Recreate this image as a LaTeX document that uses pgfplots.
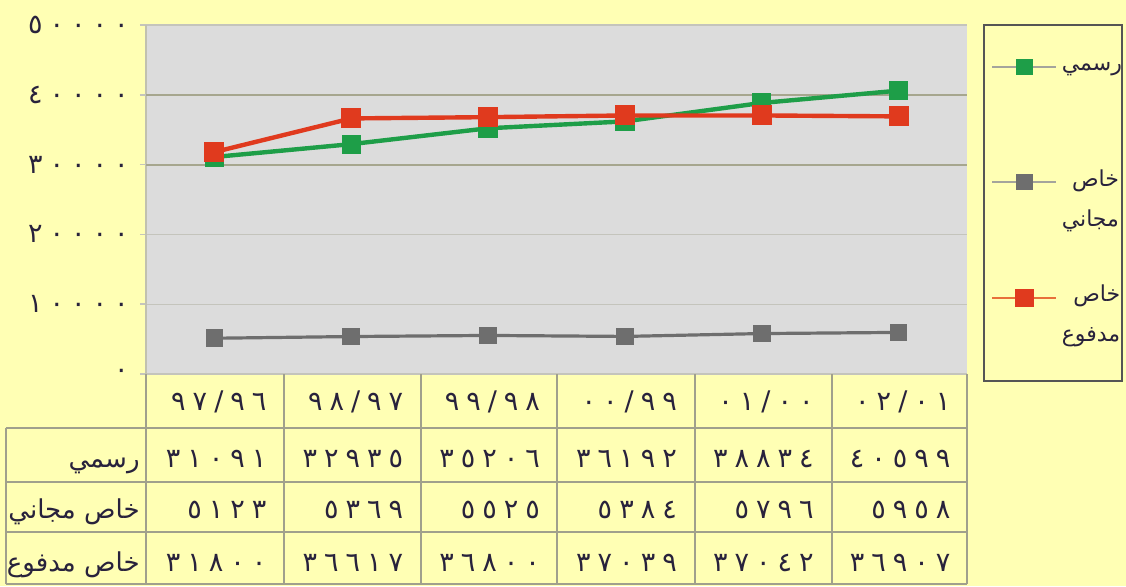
\documentclass[border=0pt]{standalone}
\usepackage{fontspec}
\usepackage{pgfplots}
\usepackage{pgfplotstable}
\pgfplotsset{compat=1.18}
\usetikzlibrary{backgrounds}
\TeXXeTstate=1
\newfontfamily\arabicfont[Script=Arabic]{DejaVu Sans}
\newfontfamily\digfont[LetterSpace=26]{DejaVu Sans}
\definecolor{bgyellow}{HTML}{FFFFB4}
\definecolor{plotgrey}{HTML}{DCDCDC}
\definecolor{rasmi}{HTML}{1E9E48}
\definecolor{majani}{HTML}{6E6E6E}
\definecolor{madfu}{HTML}{E03A1E}
\definecolor{gridlight}{HTML}{C4C4BC}
\definecolor{griddark}{HTML}{A6A68E}
\definecolor{tableline}{HTML}{A0A08C}
\definecolor{legline}{HTML}{A4A49C}
\definecolor{legred}{HTML}{E8703A}
\definecolor{frame}{HTML}{555555}
\definecolor{ink}{HTML}{28223C}

% enrolment by year: official, private free, private paid
\pgfplotstableread{
x rasmi majani madfu
0 31091 5123 31800
1 32935 5369 36617
2 35206 5525 36800
3 36192 5384 37039
4 38834 5796 37042
5 40599 5958 36907
}\enrol

% legend text hangs below the entry line and takes no room of its own
\newcommand\legtext[1]{\smash{\begin{tabular}[t]{@{}r@{}}#1\end{tabular}}}
\tikzset{
  cell/.style={anchor=base east, inner sep=0pt, text=ink, font=\digfont\fontsize{13.5}{16}\selectfont},
  rowlab/.style={anchor=base east, inner sep=0pt, text=ink, font=\arabicfont\fontsize{13}{16}\selectfont},
}

\begin{document}
\begin{tikzpicture}
\begin{axis}[name=main, scale only axis, width=410.5pt, height=174.5pt,
  xmin=-0.5, xmax=5.5, ymin=0, ymax=50000,
  axis x line=none, axis y line*=left,
  axis line style={draw=griddark!70, line width=0.8pt},
  axis background/.style={fill=plotgrey},
  scaled y ticks=false,
  ytick={0,10000,20000,30000,40000,50000},
  yticklabels={٠,١٠٠٠٠,٢٠٠٠٠,٣٠٠٠٠,٤٠٠٠٠,٥٠٠٠٠},
  yticklabel style={font=\digfont\fontsize{13.5}{16}\selectfont, text=ink, inner sep=0pt, xshift=-5.5pt},
  tick align=outside, major tick length=3pt,
  ytick style={draw=gridlight, line width=0.8pt},
  ymajorgrids, grid style={draw=gridlight, line width=0.6pt},
  extra y ticks={30000,40000}, extra y tick labels={},
  extra y tick style={grid style={draw=griddark, line width=1pt}},
  legend style={at={(1.0293,0.9009)}, anchor=north west, draw=none, fill=none,
    inner sep=0pt, outer sep=0pt, row sep=48.5pt, column sep=0pt,
    cells={anchor=base west, inner sep=0pt},
    font=\arabicfont\fontsize{11}{20}\selectfont, text=ink},
  legend image code/.code={\draw[mark repeat=2, mark phase=2, #1] plot coordinates {(0pt,2pt) (16pt,2pt) (32pt,2pt)};},
]
\addplot[forget plot, majani, line width=1.6pt, mark=square*, mark size=3.6pt] table[x=x, y=majani] {\enrol};
\addplot[forget plot, rasmi, line width=2.2pt, mark=square*, mark size=3.7pt] table[x=x, y=rasmi] {\enrol};
\addplot[forget plot, madfu, line width=2.2pt, mark=square*, mark size=3.9pt] table[x=x, y=madfu] {\enrol};

\addlegendimage{draw=legline, line width=1pt, mark=square*, mark size=3.7pt, mark options={draw=rasmi, fill=rasmi}}
\addlegendentry{\legtext{\beginR رسمي\endR}}
\addlegendimage{draw=legline, line width=1pt, mark=square*, mark size=3.6pt, mark options={draw=majani, fill=majani}}
\addlegendentry{\legtext{\beginR خاص\endR\\\beginR مجاني\endR}}
\addlegendimage{draw=legred, line width=1.4pt, mark=square*, mark size=3.9pt, mark options={draw=madfu, fill=madfu}}
\addlegendentry{\legtext{\beginR خاص\endR\\\beginR مدفوع\endR}}
\end{axis}

% picture frame, data table and legend box, in pixels of the reference
\begin{scope}[shift={(main.south west)}, x=0.5pt, y=-0.5pt, shift={(-146,-374)}]
  \begin{scope}[on background layer]
    \fill[bgyellow] (0,0) rectangle (1126,586);
  \end{scope}
  \draw[frame, line width=1pt] (984,25) rectangle (1122,381);
  \foreach \xx in {146,284,421,557,695,832,967}
    \draw[tableline, line width=0.8pt] (\xx,374) -- (\xx,584);
  \foreach \yy in {428,482,532,584}
    \draw[tableline, line width=0.8pt] (6,\yy) -- (967,\yy);
  \draw[tableline, line width=0.8pt] (6,428) -- (6,584);
  \foreach \lab [count=\i] in {٩٧/٩٦,٩٨/٩٧,٩٩/٩٨,٠٠/٩٩,٠١/٠٠,٠٢/٠١}
    \node[cell] at ({146+136.8*\i-16},410) {\lab};
  \foreach \lab [count=\i] in {٣١٠٩١,٣٢٩٣٥,٣٥٢٠٦,٣٦١٩٢,٣٨٨٣٤,٤٠٥٩٩}
    \node[cell] at ({146+136.8*\i-16},467) {\lab};
  \foreach \lab [count=\i] in {٥١٢٣,٥٣٦٩,٥٥٢٥,٥٣٨٤,٥٧٩٦,٥٩٥٨}
    \node[cell] at ({146+136.8*\i-16},518) {\lab};
  \foreach \lab [count=\i] in {٣١٨٠٠,٣٦٦١٧,٣٦٨٠٠,٣٧٠٣٩,٣٧٠٤٢,٣٦٩٠٧}
    \node[cell] at ({146+136.8*\i-16},571) {\lab};
  \node[rowlab] at (140,467) {\beginR رسمي\endR};
  \node[rowlab] at (140,518) {\beginR خاص مجاني\endR};
  \node[rowlab] at (140,571) {\beginR خاص مدفوع\endR};
  \pgfresetboundingbox
  \useasboundingbox (0,0) rectangle (1126,586);
\end{scope}
\end{tikzpicture}
\end{document}
